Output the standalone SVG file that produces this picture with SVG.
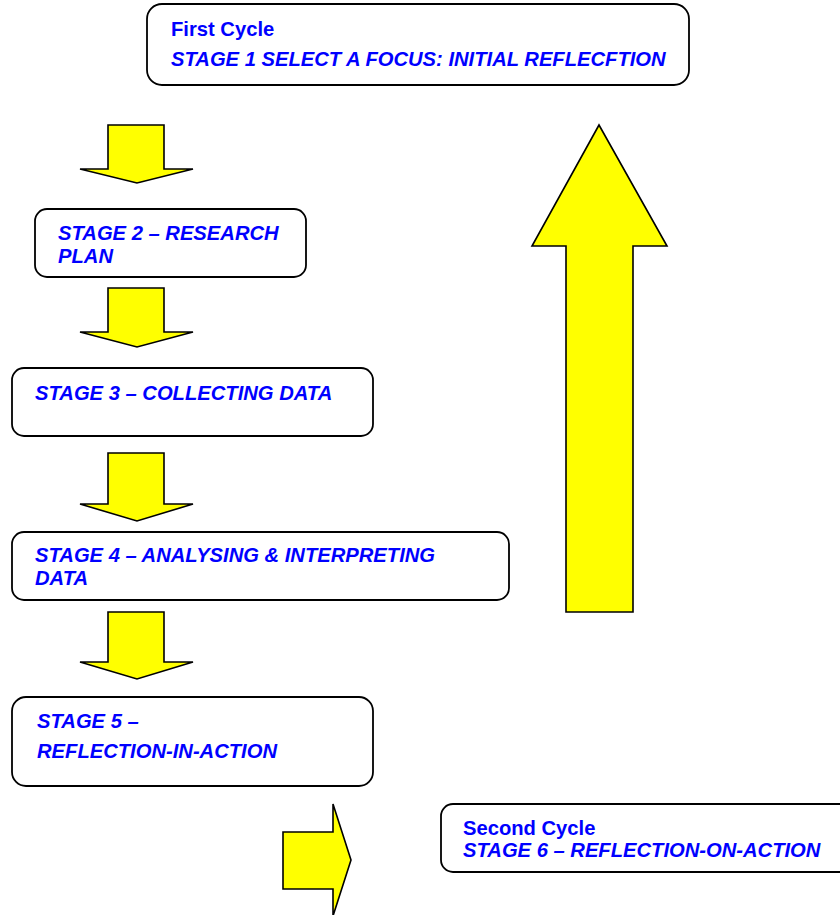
<svg xmlns="http://www.w3.org/2000/svg" width="840" height="915" viewBox="0 0 840 915">
<style>
.box{fill:#fff;stroke:#000;stroke-width:1.8}
.arr{fill:#ffff00;stroke:#000;stroke-width:1.6;stroke-linejoin:miter}
text{font-family:"Liberation Sans",Arial,sans-serif;font-size:20.2px;font-weight:bold;fill:#0000ff}
.it{font-style:italic}
</style>
<rect width="840" height="915" fill="#fff"/>
<g id="connectors">
<polygon class="arr" points="108,125 164,125 164,169 193,169 137,183 80,169 108,169"/>
<polygon class="arr" points="108,288 164,288 164,332 193,332 137,347 80,332 108,332"/>
<polygon class="arr" points="108,453 164,453 164,504 193,504 137,521 80,504 108,504"/>
<polygon class="arr" points="108,612 164,612 164,662 193,662 137,679 80,662 108,662"/>
<polygon class="arr" points="283,832 333,832 333,804 351,860 333,916 333,889 283,889"/>
<polygon class="arr" points="566,612 633,612 633,246 667,246 599,125 532,246 566,246"/>
</g>
<g id="stage1">
<rect class="box" x="147" y="4" width="542" height="81" rx="15"/>
<text x="171" y="36">First Cycle</text>
<text class="it" x="171" y="66">STAGE 1 SELECT A FOCUS: INITIAL REFLECFTION</text>
</g>
<g id="stage2">
<rect class="box" x="35" y="209" width="271" height="68" rx="12"/>
<text class="it" x="58" y="240">STAGE 2 – RESEARCH</text>
<text class="it" x="58" y="263">PLAN</text>
</g>
<g id="stage3">
<rect class="box" x="12" y="368" width="361" height="68" rx="12"/>
<text class="it" x="35" y="400">STAGE 3 – COLLECTING DATA</text>
</g>
<g id="stage4">
<rect class="box" x="12" y="532" width="497" height="68" rx="12"/>
<text class="it" x="35" y="562">STAGE 4 – ANALYSING &amp; INTERPRETING</text>
<text class="it" x="35" y="585">DATA</text>
</g>
<g id="stage5">
<rect class="box" x="12" y="697" width="361" height="89" rx="14"/>
<text class="it" x="37" y="728">STAGE 5 –</text>
<text class="it" x="37" y="758">REFLECTION-IN-ACTION</text>
</g>
<g id="stage6">
<rect class="box" x="441" y="804" width="420" height="68" rx="12"/>
<text x="463" y="835">Second Cycle</text>
<text class="it" x="463" y="857">STAGE 6 – REFLECTION-ON-ACTION</text>
</g>
</svg>
